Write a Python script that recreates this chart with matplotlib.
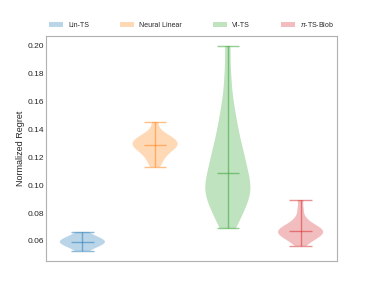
import matplotlib
matplotlib.use("Agg")
import matplotlib.pyplot as plt
from matplotlib.patches import Patch
import numpy as np

# normalized regret per method
methods = ["Lin-TS", "Neural Linear", "VI-TS", r"$\pi$-TS-Blob"]
colors = ["tab:blue", "tab:orange", "tab:green", "tab:red"]

lin_ts = [0.0528, 0.0550, 0.0565, 0.0575, 0.0582, 0.0587, 0.0590, 0.0593,
          0.0597, 0.0602, 0.0608, 0.0615, 0.0625, 0.0640, 0.0665]
neural_linear = [0.1131, 0.1170, 0.1200, 0.1225, 0.1245, 0.1260, 0.1272, 0.1282,
                 0.1289, 0.1298, 0.1308, 0.1318, 0.1328, 0.1340, 0.1355, 0.1372,
                 0.1454]
vi_ts = [0.069, 0.074, 0.078, 0.082, 0.085, 0.088, 0.091, 0.093, 0.095, 0.097,
         0.099, 0.101, 0.104, 0.106, 0.109, 0.112, 0.115, 0.118, 0.121, 0.124,
         0.128, 0.132, 0.137, 0.142, 0.148, 0.155, 0.165, 0.180, 0.200]
pi_ts_blob = [0.0564, 0.0590, 0.0605, 0.0617, 0.0627, 0.0636, 0.0644, 0.0651,
              0.0658, 0.0665, 0.0672, 0.0679, 0.0686, 0.0694, 0.0703, 0.0713,
              0.0725, 0.0745, 0.0775, 0.0830, 0.0894]
bandwidths = [0.9, 0.5, 0.3, 0.35]
yticks = [0.06, 0.08, 0.10, 0.12, 0.14, 0.16, 0.18, 0.20]

plt.rcParams["font.family"] = ["Liberation Sans", "DejaVu Sans"]
plt.rcParams["mathtext.fontset"] = "custom"
plt.rcParams["mathtext.it"] = "Liberation Sans:italic"
plt.rcParams["text.color"] = "#262626"
plt.rcParams["axes.labelcolor"] = "#262626"
plt.rcParams["ytick.color"] = "#262626"

fig = plt.figure(figsize=(3.74, 2.99), dpi=100)
ax = fig.add_axes([0.123, 0.127, 0.778, 0.753])

data = [lin_ts, neural_linear, vi_ts, pi_ts_blob]
for i, (vals, c) in enumerate(zip(data, colors)):
    parts = ax.violinplot([vals], positions=[i + 1], widths=0.62, showmedians=True,
                          bw_method=bandwidths[i])
    for body in parts["bodies"]:
        body.set_facecolor(c)
        body.set_edgecolor("none")
        body.set_alpha(0.3)
    for key in ["cbars", "cmins", "cmaxes", "cmedians"]:
        parts[key].set_color(c)
        parts[key].set_alpha(0.5)
        parts[key].set_linewidth(1.0)

ax.set_xlim(0.5, 4.5)
ax.set_ylim(0.0456, 0.2072)
ax.set_xticks([])
ax.set_yticks(yticks)
ax.set_yticklabels([f"{t:.2f}" for t in yticks])
ax.tick_params(axis="y", length=0, pad=1.5, labelsize=6)
ax.set_ylabel("Normalized Regret", fontsize=6.5, labelpad=2)
for s in ax.spines.values():
    s.set_color("#b0b0b0")
    s.set_linewidth(0.8)

handles = [Patch(facecolor=c, alpha=0.3, edgecolor="none") for c in colors]
ax.legend(handles, methods, loc="lower left", bbox_to_anchor=(0, 1.02, 1, 0.06),
          mode="expand", ncol=4, frameon=False, fontsize=5, handlelength=2.0,
          borderaxespad=0)

fig.savefig("out.png", dpi=100)
